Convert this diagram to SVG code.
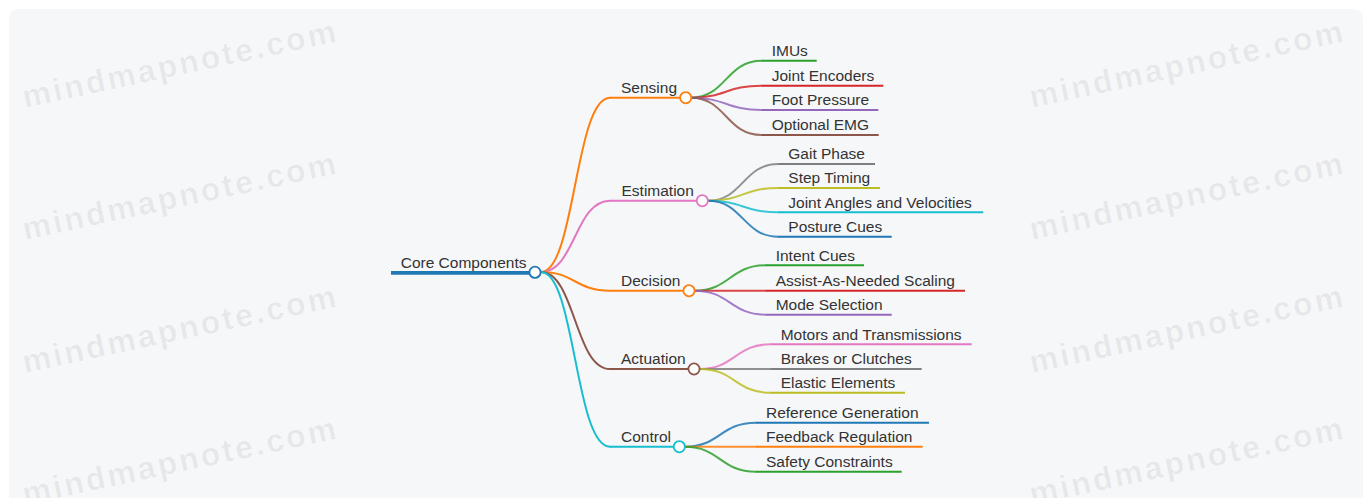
<svg xmlns="http://www.w3.org/2000/svg" width="1366" height="498" viewBox="0 0 1366 498">
  <style>
    text { font-family: "Liberation Sans", Arial, Helvetica, sans-serif; }
    .label { font-size: 15.5px; fill: #333333; }
    .wm { font-size: 32px; font-weight: bold; letter-spacing: 2.5px; fill: #000000; fill-opacity: 0.06; }
    .link { fill: none; stroke-width: 2; stroke-linecap: round; }
    .sub { stroke-opacity: 0.85; }
    .bar { fill: none; stroke-width: 2; }
    .dot { fill: #ffffff; stroke-width: 1.8; }
  </style>

  <!-- canvas -->
  <rect x="0" y="0" width="1366" height="498" fill="#ffffff"/>
  <rect x="9" y="9" width="1354" height="510" rx="9" fill="#f6f7f9"/>

  <!-- watermark tiles -->
  <g id="watermark">
    <text class="wm" transform="translate(25 108) rotate(-12)">mindmapnote.com</text>
    <text class="wm" transform="translate(25 240) rotate(-12)">mindmapnote.com</text>
    <text class="wm" transform="translate(25 373) rotate(-12)">mindmapnote.com</text>
    <text class="wm" transform="translate(25 505) rotate(-12)">mindmapnote.com</text>
    <text class="wm" transform="translate(1032 108) rotate(-12)">mindmapnote.com</text>
    <text class="wm" transform="translate(1032 240) rotate(-12)">mindmapnote.com</text>
    <text class="wm" transform="translate(1032 373) rotate(-12)">mindmapnote.com</text>
    <text class="wm" transform="translate(1032 505) rotate(-12)">mindmapnote.com</text>
  </g>

  <!-- connectors: root to branches, branches to leaves -->
  <g id="connectors">
    <path class="link" stroke="#ff7f0e" d="M541,272 C575,272 575,97.7 610,97.7"/>
    <path class="link" stroke="#e377c2" d="M541,272 C575,272 575,200.7 610,200.7"/>
    <path class="link" stroke="#ff7f0e" d="M541,272 C575,272 575,290.7 610,290.7"/>
    <path class="link" stroke="#8c564b" d="M541,272 C575,272 575,369 610,369"/>
    <path class="link" stroke="#17becf" d="M541,272 C575,272 575,446.7 610,446.7"/>

    <path class="link sub" stroke="#2ca02c" d="M691,97.7 C726,97.7 726,60.7 761.7,60.7"/>
    <path class="link sub" stroke="#d62728" d="M691,97.7 C726,97.7 726,85.7 761.7,85.7"/>
    <path class="link sub" stroke="#9467bd" d="M691,97.7 C726,97.7 726,110 761.7,110"/>
    <path class="link sub" stroke="#8c564b" d="M691,97.7 C726,97.7 726,135 761.7,135"/>

    <path class="link sub" stroke="#7f7f7f" d="M708,200.7 C743,200.7 743,164 778.3,164"/>
    <path class="link sub" stroke="#bcbd22" d="M708,200.7 C743,200.7 743,188 778.3,188"/>
    <path class="link sub" stroke="#17becf" d="M708,200.7 C743,200.7 743,212.3 778.3,212.3"/>
    <path class="link sub" stroke="#1f77b4" d="M708,200.7 C743,200.7 743,236.7 778.3,236.7"/>

    <path class="link sub" stroke="#2ca02c" d="M694.5,290.7 C730,290.7 730,265.3 765.7,265.3"/>
    <path class="link sub" stroke="#d62728" d="M694.5,290.7 L765.7,290.7"/>
    <path class="link sub" stroke="#9467bd" d="M694.5,290.7 C730,290.7 730,314.7 765.7,314.7"/>

    <path class="link sub" stroke="#e377c2" d="M699.5,369 C735,369 735,344.3 770.7,344.3"/>
    <path class="link sub" stroke="#7f7f7f" d="M699.5,369 L770.7,369"/>
    <path class="link sub" stroke="#bcbd22" d="M699.5,369 C735,369 735,392.7 770.7,392.7"/>

    <path class="link sub" stroke="#1f77b4" d="M685,446.7 C720,446.7 720,422.7 756,422.7"/>
    <path class="link sub" stroke="#ff7f0e" d="M685,446.7 L756,446.7"/>
    <path class="link sub" stroke="#2ca02c" d="M685,446.7 C720,446.7 720,471.7 756,471.7"/>
  </g>

  <!-- root -->
  <g id="node-core-components">
    <line x1="391" y1="272.8" x2="535" y2="272.8" stroke="#1f77b4" stroke-width="3.8"/>
    <text class="label" x="400.7" y="267.7">Core Components</text>
    <circle class="dot" cx="535" cy="272.3" r="5.6" stroke="#1f77b4"/>
  </g>

  <!-- branch: Sensing -->
  <g id="node-sensing">
    <line class="bar" x1="610" y1="97.7" x2="685.7" y2="97.7" stroke="#ff7f0e"/>
    <text class="label" x="621" y="93.2">Sensing</text>
    <circle class="dot" cx="685.7" cy="97.7" r="5.6" stroke="#ff7f0e"/>
  </g>
  <g id="node-imus">
    <line class="bar" x1="761.7" y1="60.7" x2="816.7" y2="60.7" stroke="#2ca02c"/>
    <text class="label" x="771.7" y="56">IMUs</text>
  </g>
  <g id="node-joint-encoders">
    <line class="bar" x1="761.7" y1="85.7" x2="883.3" y2="85.7" stroke="#d62728"/>
    <text class="label" x="771.7" y="81">Joint Encoders</text>
  </g>
  <g id="node-foot-pressure">
    <line class="bar" x1="761.7" y1="110" x2="878.3" y2="110" stroke="#9467bd"/>
    <text class="label" x="771.7" y="105.3">Foot Pressure</text>
  </g>
  <g id="node-optional-emg">
    <line class="bar" x1="761.7" y1="135" x2="878.7" y2="135" stroke="#8c564b"/>
    <text class="label" x="771.7" y="130.3">Optional EMG</text>
  </g>

  <!-- branch: Estimation -->
  <g id="node-estimation">
    <line class="bar" x1="610" y1="200.7" x2="702.3" y2="200.7" stroke="#e377c2"/>
    <text class="label" x="621.5" y="196.1">Estimation</text>
    <circle class="dot" cx="702.3" cy="200.7" r="5.6" stroke="#e377c2"/>
  </g>
  <g id="node-gait-phase">
    <line class="bar" x1="778.3" y1="164" x2="875" y2="164" stroke="#7f7f7f"/>
    <text class="label" x="788.3" y="159.3">Gait Phase</text>
  </g>
  <g id="node-step-timing">
    <line class="bar" x1="778.3" y1="188" x2="880" y2="188" stroke="#bcbd22"/>
    <text class="label" x="788.3" y="183.3">Step Timing</text>
  </g>
  <g id="node-joint-angles">
    <line class="bar" x1="778.3" y1="212.3" x2="983.3" y2="212.3" stroke="#17becf"/>
    <text class="label" x="788.3" y="207.6">Joint Angles and Velocities</text>
  </g>
  <g id="node-posture-cues">
    <line class="bar" x1="778.3" y1="236.7" x2="891.7" y2="236.7" stroke="#1f77b4"/>
    <text class="label" x="788.3" y="232">Posture Cues</text>
  </g>

  <!-- branch: Decision -->
  <g id="node-decision">
    <line class="bar" x1="610" y1="290.7" x2="689" y2="290.7" stroke="#ff7f0e"/>
    <text class="label" x="621" y="286.1">Decision</text>
    <circle class="dot" cx="689" cy="290.7" r="5.6" stroke="#ff7f0e"/>
  </g>
  <g id="node-intent-cues">
    <line class="bar" x1="765.7" y1="265.3" x2="864" y2="265.3" stroke="#2ca02c"/>
    <text class="label" x="775.7" y="260.6">Intent Cues</text>
  </g>
  <g id="node-assist-as-needed">
    <line class="bar" x1="765.7" y1="290.7" x2="965" y2="290.7" stroke="#d62728"/>
    <text class="label" x="775.7" y="286">Assist-As-Needed Scaling</text>
  </g>
  <g id="node-mode-selection">
    <line class="bar" x1="765.7" y1="314.7" x2="891.7" y2="314.7" stroke="#9467bd"/>
    <text class="label" x="775.7" y="310">Mode Selection</text>
  </g>

  <!-- branch: Actuation -->
  <g id="node-actuation">
    <line class="bar" x1="610" y1="369" x2="694" y2="369" stroke="#8c564b"/>
    <text class="label" x="621" y="364.4">Actuation</text>
    <circle class="dot" cx="694" cy="369" r="5.6" stroke="#8c564b"/>
  </g>
  <g id="node-motors">
    <line class="bar" x1="770.7" y1="344.3" x2="971.7" y2="344.3" stroke="#e377c2"/>
    <text class="label" x="780.7" y="339.6">Motors and Transmissions</text>
  </g>
  <g id="node-brakes">
    <line class="bar" x1="770.7" y1="369" x2="921.7" y2="369" stroke="#7f7f7f"/>
    <text class="label" x="780.7" y="364.3">Brakes or Clutches</text>
  </g>
  <g id="node-elastic">
    <line class="bar" x1="770.7" y1="392.7" x2="905" y2="392.7" stroke="#bcbd22"/>
    <text class="label" x="780.7" y="388">Elastic Elements</text>
  </g>

  <!-- branch: Control -->
  <g id="node-control">
    <line class="bar" x1="610" y1="446.7" x2="679.3" y2="446.7" stroke="#17becf"/>
    <text class="label" x="621" y="442.1">Control</text>
    <circle class="dot" cx="679.3" cy="446.7" r="5.6" stroke="#17becf"/>
  </g>
  <g id="node-reference-generation">
    <line class="bar" x1="756" y1="422.7" x2="929" y2="422.7" stroke="#1f77b4"/>
    <text class="label" x="766" y="418">Reference Generation</text>
  </g>
  <g id="node-feedback-regulation">
    <line class="bar" x1="756" y1="446.7" x2="922.7" y2="446.7" stroke="#ff7f0e"/>
    <text class="label" x="766" y="442">Feedback Regulation</text>
  </g>
  <g id="node-safety-constraints">
    <line class="bar" x1="756" y1="471.7" x2="901.7" y2="471.7" stroke="#2ca02c"/>
    <text class="label" x="766" y="467">Safety Constraints</text>
  </g>
</svg>
